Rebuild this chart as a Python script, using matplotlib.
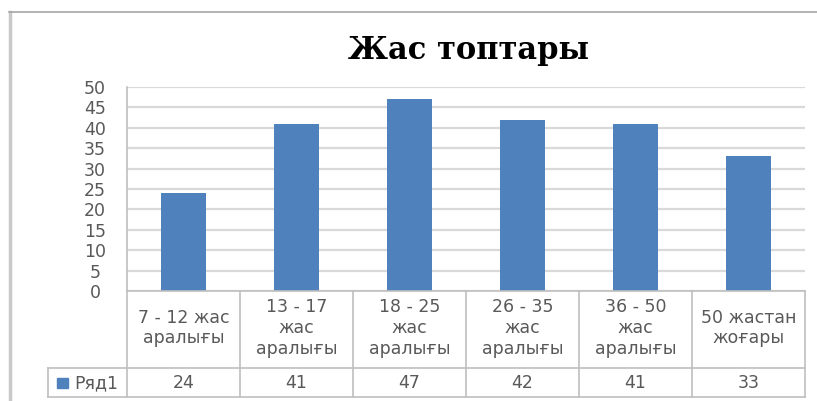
import matplotlib.pyplot as plt
from matplotlib.lines import Line2D
from matplotlib.patches import Rectangle

categories = ["7 - 12 жас\nаралығы", "13 - 17\nжас\nаралығы", "18 - 25\nжас\nаралығы",
              "26 - 35\nжас\nаралығы", "36 - 50\nжас\nаралығы", "50 жастан\nжоғары"]
values = [24, 41, 47, 42, 41, 33]
series_name = "Ряд1"
title = "Жас топтары"
yticks = list(range(0, 51, 5))

W, H = 817, 401
BLUE = "#4f81bd"
GRID = "#d9d9d9"
TEXT = "#595959"
LINE = "#bfbfbf"
FONT = "DejaVu Sans"


def fx(px):
    return px / W


def fy(py):
    return 1 - py / H


fig = plt.figure(figsize=(W / 100, H / 100), dpi=100)
fig.patch.set_facecolor("white")

# chart frame
fig.add_artist(Line2D([fx(9.5), fx(9.5)], [fy(12), fy(401)], color="#c8c8c8", lw=2.5))
fig.add_artist(Line2D([fx(9), fx(817)], [fy(11.5), fy(11.5)], color="#a6a6a6", lw=1.2))

fig.text(fx(469), fy(51), title, ha="center", va="center",
         family="DejaVu Serif", weight="bold", size=22, color="black")

left, right, top, zero, bottom = 127, 805, 87, 291, 397
ax = fig.add_axes([fx(left), fy(zero), fx(right - left), (zero - top) / H])
n = len(values)
x = list(range(n))
ax.bar(x, values, width=0.39, color=BLUE, zorder=3)
ax.set_xlim(-0.5, n - 0.5)
ax.set_ylim(0, 50)
ax.set_yticks(yticks)
ax.yaxis.grid(True, color=GRID, lw=1.6, zorder=0)
ax.set_xticks([])
for s in ["top", "right", "bottom"]:
    ax.spines[s].set_visible(False)
ax.spines["left"].set_color(LINE)
ax.spines["left"].set_linewidth(1.2)
ax.tick_params(axis="y", length=0, pad=23, labelsize=12.5, labelcolor=TEXT)
for lab in ax.get_yticklabels():
    lab.set_family(FONT)
    lab.set_horizontalalignment("center")

# data table below the plot
tab = fig.add_axes([fx(left), fy(bottom), fx(right - left), (bottom - zero) / H], sharex=ax)
tab.set_ylim(bottom - zero, 0)
tab.axis("off")
row_y = 368 - zero
col_px = (right - left) / n
leg_left = -0.5 - (left - 48) / col_px


def tline(xs, ys):
    tab.add_line(Line2D(xs, ys, color=LINE, lw=1.2, clip_on=False))


tline([-0.5, n - 0.5], [0, 0])
tline([leg_left, n - 0.5], [row_y, row_y])
tline([leg_left, n - 0.5], [bottom - zero, bottom - zero])
tline([leg_left, leg_left], [row_y, bottom - zero])
for i in range(n + 1):
    tline([i - 0.5, i - 0.5], [0, bottom - zero])

for i, (cat, val) in enumerate(zip(categories, values)):
    tab.text(i, row_y / 2 - 1.5, cat, ha="center", va="center", size=12.5,
             family=FONT, color=TEXT, linespacing=1.2)
    tab.text(i, (row_y + bottom - zero) / 2 + 0.5, str(val), ha="center", va="center",
             size=12.5, family=FONT, color=TEXT)

mid = (row_y + bottom - zero) / 2
tab.add_patch(Rectangle((leg_left + 9 / col_px, mid - 4.5), 11 / col_px, 9.5,
                        color=BLUE, clip_on=False))
tab.text(leg_left + 26 / col_px, mid + 0.5, series_name, ha="left", va="center",
         size=12.5, family=FONT, color=TEXT)

fig.savefig("out.png", dpi=100, facecolor="white")
